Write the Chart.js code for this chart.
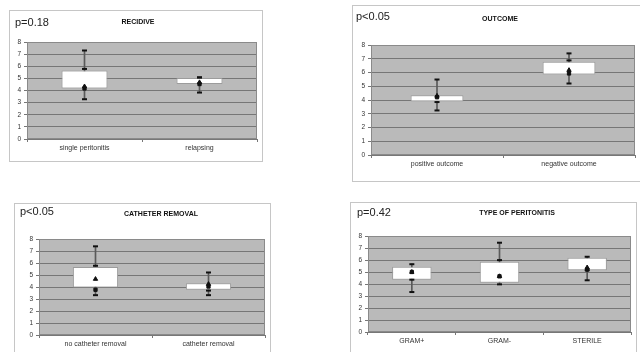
<!DOCTYPE html>
<html>
<head>
<meta charset="utf-8">
<script src="https://cdn.jsdelivr.net/npm/chart.js@4.4.1/dist/chart.umd.min.js"></script>
<style>
body { margin: 0; background: #fff; width: 640px; height: 352px; overflow: hidden; position: relative; font-family: "Liberation Sans", Arial, sans-serif; }
.panel { position: absolute; border: 1px solid #c6c6c6; box-sizing: border-box; background: #fff; }
canvas { position: absolute; }
</style>
</head>
<body>
<script>
/*eslint no-undef: 0*/

// RECIDIVE
const recidiveCats = ['single peritonitis', 'relapsing'];
const recidiveBox = [[4.17, 5.65], [4.53, 5.03]];
const recidiveRange = [[3.28, 7.3], [3.83, 5.08]];
const recidiveUpper = [5.78, 5.08];
const recidiveMean = [4.33, 4.67];
const recidiveMedian = [4.17, 4.53];

// OUTCOME
const outcomeCats = ['positive outcome', 'negative outcome'];
const outcomeBox = [[3.9, 4.34], [5.85, 6.78]];
const outcomeRange = [[3.24, 5.49], [5.2, 7.39]];
const outcomeUpper = [3.85, 6.88];
const outcomeMean = [4.3, 6.17];
const outcomeMedian = [4.2, 5.93];

// CATHETER REMOVAL
const catheterCats = ['no catheter removal', 'catheter removal'];
const catheterBox = [[3.96, 5.66], [3.77, 4.32]];
const catheterRange = [[3.32, 7.39], [3.32, 5.21]];
const catheterUpper = [5.77, 3.7];
const catheterMean = [4.66, 4.24];
const catheterMedian = [3.77, 4.04];

// TYPE OF PERITONITIS
const typeCats = ['GRAM+', 'GRAM-', 'STERILE'];
const typeBox = [[4.36, 5.43], [4.11, 5.85], [5.15, 6.18]];
const typeRange = [[3.33, 5.65], [3.97, 7.44], [4.31, 6.27]];
const typeUpper = [4.36, 5.99, 5.15];
const typeMean = [5.0, 4.64, 5.37];
const typeMedian = [5.0, 4.64, 5.2];

const yTicks = [0, 1, 2, 3, 4, 5, 6, 7, 8];

const plotDecor = {
    id: 'plotDecor',
    beforeDraw: function (chart) {
        const a = chart.chartArea;
        const ctx = chart.ctx;
        ctx.save();
        ctx.fillStyle = '#bababa';
        ctx.fillRect(a.left, a.top, a.right - a.left, a.bottom - a.top);
        ctx.restore();
    },
    beforeDatasetsDraw: function (chart) {
        const a = chart.chartArea;
        const ctx = chart.ctx;
        ctx.save();
        ctx.strokeStyle = '#8a8a8a';
        ctx.lineWidth = 1;
        ctx.strokeRect(a.left + 0.5, a.top + 0.5, a.right - a.left - 1, a.bottom - a.top - 1);
        ctx.restore();
    },
    afterDraw: function (chart, args, opts) {
        const ctx = chart.ctx;
        ctx.save();
        ctx.fillStyle = '#111';
        ctx.textBaseline = 'middle';
        ctx.font = 'bold 7px "Liberation Sans", Arial, sans-serif';
        ctx.textAlign = 'center';
        ctx.fillText(opts.title, opts.tx, opts.ty);
        ctx.font = '11px "Liberation Sans", Arial, sans-serif';
        ctx.textAlign = 'left';
        ctx.fillStyle = '#222';
        ctx.fillText(opts.p, opts.px, opts.py);
        ctx.restore();
    }
};

function makePanel(rect, pad, cats, box, range, upper, mean, median, barPct, text) {
    const div = document.createElement('div');
    div.className = 'panel';
    div.style.left = rect[0] + 'px';
    div.style.top = rect[1] + 'px';
    div.style.width = rect[2] + 'px';
    div.style.height = rect[3] + 'px';
    document.body.appendChild(div);

    const canvas = document.createElement('canvas');
    canvas.width = rect[2];
    canvas.height = rect[3];
    canvas.style.left = rect[0] + 'px';
    canvas.style.top = rect[1] + 'px';
    document.body.appendChild(canvas);

    const pointSet = (data, style, radius, width) => ({
        type: 'line',
        data: data,
        showLine: false,
        pointStyle: style,
        pointRadius: radius,
        pointBorderWidth: width,
        pointBorderColor: '#111',
        pointBackgroundColor: '#111',
        order: 1
    });

    return new Chart(canvas.getContext('2d'), {
        type: 'bar',
        data: {
            labels: cats,
            datasets: [
                {
                    data: box,
                    backgroundColor: '#ffffff',
                    borderColor: '#9c9c9c',
                    borderWidth: 1,
                    borderSkipped: false,
                    grouped: false,
                    categoryPercentage: 1,
                    barPercentage: barPct,
                    order: 2
                },
                {
                    data: range,
                    backgroundColor: '#5a5a5a',
                    borderWidth: 0,
                    grouped: false,
                    barThickness: 1,
                    order: 3
                },
                pointSet(range.map(r => r[1]), 'line', 2.5, 2),
                pointSet(range.map(r => r[0]), 'line', 2.5, 2),
                pointSet(upper, 'line', 2.5, 2),
                pointSet(median, 'rect', 2.3, 1),
                pointSet(mean, 'triangle', 2.5, 1)
            ]
        },
        options: {
            responsive: false,
            animation: false,
            events: [],
            layout: { padding: { left: 0, top: pad[1], right: pad[2], bottom: 0 } },
            plugins: {
                legend: { display: false },
                tooltip: { enabled: false },
                plotDecor: text
            },
            scales: {
                x: {
                    type: 'category',
                    offset: true,
                    afterFit: s => { s.height = pad[3]; },
                    grid: { drawOnChartArea: false, drawTicks: true, tickLength: 3, color: '#777', offset: true },
                    border: { color: '#777' },
                    ticks: { color: '#333', font: { size: 7, family: '"Liberation Sans", Arial, sans-serif' }, padding: 2, maxRotation: 0 }
                },
                y: {
                    min: 0,
                    max: 8,
                    afterFit: s => { s.width = pad[0]; },
                    afterBuildTicks: s => { s.ticks = yTicks.map(v => ({ value: v })); },
                    grid: { color: '#767676', lineWidth: 1, tickLength: 3 },
                    border: { color: '#777' },
                    ticks: { color: '#333', font: { size: 6.5, family: '"Liberation Sans", Arial, sans-serif' }, padding: 3 }
                }
            }
        },
        plugins: [plotDecor]
    });
}

makePanel([9, 10, 254, 152], [18, 32, 6, 23], recidiveCats, recidiveBox, recidiveRange, recidiveUpper,
    recidiveMean, recidiveMedian, 0.4, { title: 'RECIDIVE', tx: 129, ty: 12, p: 'p=0.18', px: 6, py: 13 });
makePanel([352, 5, 292, 177], [19, 40, 9, 27], outcomeCats, outcomeBox, outcomeRange, outcomeUpper,
    outcomeMean, outcomeMedian, 0.4, { title: 'OUTCOME', tx: 148, ty: 14, p: 'p<0.05', px: 4, py: 12 });
makePanel([14, 203, 257, 160], [25, 36, 4, 28], catheterCats, catheterBox, catheterRange, catheterUpper,
    catheterMean, catheterMedian, 0.4, { title: 'CATHETER REMOVAL', tx: 147, ty: 11, p: 'p<0.05', px: 6, py: 9 });
makePanel([350, 202, 287, 160], [18, 34, 4, 30], typeCats, typeBox, typeRange, typeUpper,
    typeMean, typeMedian, 0.45, { title: 'TYPE OF PERITONITIS', tx: 167, ty: 11, p: 'p=0.42', px: 7, py: 11 });
</script>
</body>
</html>
